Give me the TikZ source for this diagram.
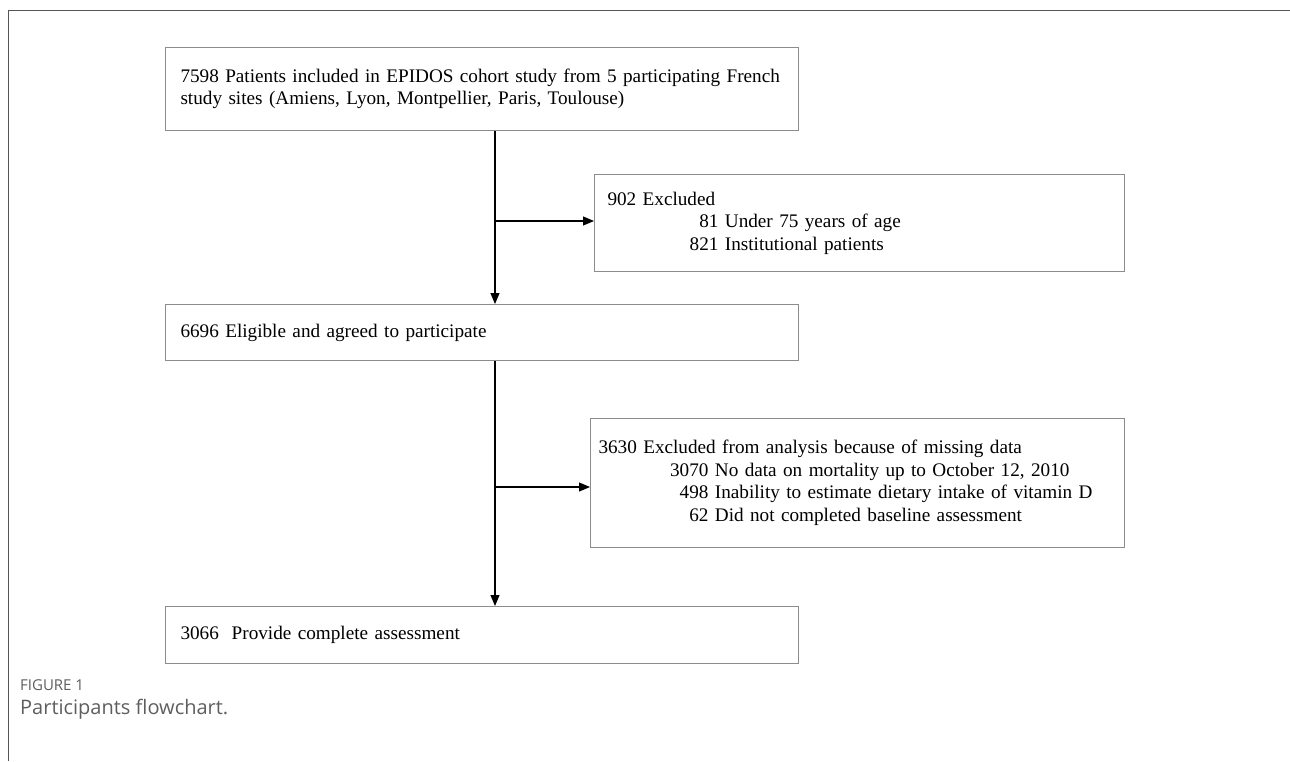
\documentclass[tikz,border=0pt]{standalone}
\usepackage{fontspec}
\setmainfont{Liberation Serif}
\newfontfamily\capfont{Open Sans}
\usetikzlibrary{arrows.meta, positioning, calc}
\definecolor{boxgray}{HTML}{8C8C8C}
\definecolor{framegray}{HTML}{555555}
\definecolor{capgray}{HTML}{5E5E5E}

\begin{document}
\begin{tikzpicture}[
  x=1pt, y=-1pt,
  box/.style={rectangle, draw=boxgray, line width=1pt, anchor=north west,
              inner xsep=15pt, inner ysep=0pt, align=left,
              font=\fontsize{19.2}{22.5}\selectfont},
  arrow/.style={-{Triangle[length=11pt, width=9pt]}, line width=1.1pt, color=black},
  caption/.style={anchor=west, inner sep=0pt, text=capgray}
]
  \useasboundingbox (0,0) rectangle (1290,761);
  \draw[framegray, line width=1pt] (1290,10) -- (8,10) -- (8,761);

  \node[box, text width=603pt, minimum height=83pt] (cohort) at (165,47)
    {7598 Patients included in EPIDOS cohort study from 5 participating French\\
     study sites (Amiens, Lyon, Montpellier, Paris, Toulouse)};
  \node[box, inner xsep=13pt, text width=504pt, minimum height=97pt] (excl1) at (594,174)
    {902 Excluded\\
     \makebox[111pt][r]{81} Under 75 years of age\\
     \makebox[111pt][r]{821} Institutional patients};
  \node[box, text width=603pt, minimum height=56pt] (eligible) at (165,304)
    {6696 Eligible and agreed to participate};
  \node[box, inner xsep=8pt, text width=518pt, minimum height=129pt] (excl2) at (590,418)
    {3630 Excluded from analysis because of missing data\\
     \makebox[110pt][r]{3070} No data on mortality up to October 12, 2010\\
     \makebox[110pt][r]{498} Inability to estimate dietary intake of vitamin D\\
     \makebox[110pt][r]{62} Did not completed baseline assessment};
  \node[box, text width=603pt, minimum height=57pt] (complete) at (165,606)
    {3066\ \ Provide complete assessment};

  \coordinate (spine) at (495,0);
  \coordinate (j1) at (495,221);
  \coordinate (j2) at (495,487);

  \draw[arrow] (cohort.south -| spine) -- (eligible.north -| spine);
  \draw[arrow] (eligible.south -| spine) -- (complete.north -| spine);
  \draw[arrow] (j1) -- (j1 -| excl1.west);
  \draw[arrow] (j2) -- (j2 -| excl2.west);

  % caption
  \node[caption, font=\capfont\fontsize{15}{18}\selectfont] (figlabel) at (20,685) {FIGURE 1};
  \node[caption, font=\capfont\fontsize{20}{24}\selectfont] (figtitle) at (20,709) {Participants flowchart.};
\end{tikzpicture}
\end{document}
